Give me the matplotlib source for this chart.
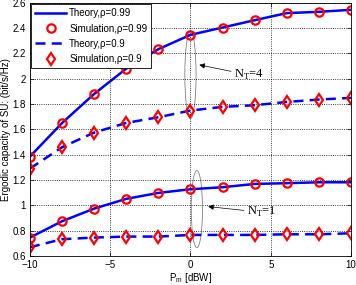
import matplotlib.pyplot as plt
from matplotlib.patches import Ellipse

plt.rcParams.update({
    "font.family": ["Liberation Sans", "DejaVu Sans"],
    "font.size": 7,
    "xtick.direction": "in", "ytick.direction": "in",
    "mathtext.fontset": "custom", "mathtext.rm": "Liberation Sans",
})

pm = [-10, -8, -6, -4, -2, 0, 2, 4, 6, 8, 10]

# N_T = 4
cap4_rho99 = [1.385, 1.65, 1.88, 2.08, 2.234, 2.347, 2.405, 2.463, 2.519, 2.529, 2.545]
cap4_rho90 = [1.29, 1.459, 1.575, 1.651, 1.696, 1.749, 1.778, 1.791, 1.817, 1.836, 1.849]
# N_T = 1
cap1_rho99 = [0.745, 0.874, 0.974, 1.051, 1.098, 1.127, 1.143, 1.169, 1.175, 1.182, 1.182]
cap1_rho90 = [0.669, 0.732, 0.745, 0.753, 0.753, 0.766, 0.766, 0.766, 0.771, 0.771, 0.779]

yticks = [0.6, 0.8, 1.0, 1.2, 1.4, 1.6, 1.8, 2.0, 2.2, 2.4, 2.6]
ytick_labels = ["0.6", "0.8", "1", "1.2", "1.4", "1.6", "1.8", "2", "2.2", "2.4", "2.6"]

fig = plt.figure(figsize=(3.56, 2.85), dpi=100)
ax = fig.add_axes([0.084, 0.102, 0.902, 0.888])

blue = "#0000ff"
red = "#ff0000"
mk = dict(ls="none", mfc="none", mec=red, mew=1.6)

for cap99, cap90, first in [(cap4_rho99, cap4_rho90, True), (cap1_rho99, cap1_rho90, False)]:
    ax.plot(pm, cap99, color=blue, lw=1.8, label="Theory,ρ=0.99" if first else None)
    ax.plot(pm, cap99, marker="o", ms=6, label="Simulation,ρ=0.99" if first else None, **mk)
    ax.plot(pm, cap90, color=blue, lw=1.8, ls=(0, (4, 2.5)), label="Theory,ρ=0.9" if first else None)
    ax.plot(pm, cap90, marker="d", ms=6, label="Simulation,ρ=0.9" if first else None, **mk)

# annotations
ax.add_patch(Ellipse((0.0, 2.03), 0.7, 0.69, fill=False, ec="gray", lw=0.6))
ax.add_patch(Ellipse((0.4, 0.97), 0.7, 0.61, fill=False, ec="gray", lw=0.6))
ax.annotate("N$_\\mathregular{T}$=4", xy=(0.55, 2.11), xytext=(2.7, 2.03),
            fontsize=9, family="Liberation Serif", va="center",
            arrowprops=dict(arrowstyle="-|>", color="black", lw=0.5,
                            mutation_scale=8, shrinkA=0, shrinkB=0))
ax.annotate("N$_\\mathregular{T}$=1", xy=(1.1, 0.99), xytext=(3.5, 0.945),
            fontsize=9, family="Liberation Serif", va="center",
            arrowprops=dict(arrowstyle="-|>", color="black", lw=0.5,
                            mutation_scale=8, shrinkA=0, shrinkB=0))

ax.set_xlim(-10, 10)
ax.set_ylim(0.6, 2.6)
ax.set_xticks([-10, -5, 0, 5, 10])
ax.set_xticklabels(["\u221210", "\u22125", "0", "5", "10"])
ax.set_yticks(yticks)
ax.set_yticklabels(ytick_labels)
ax.tick_params(labelsize=7, length=3, width=0.5, pad=3, top=True, right=True)
ax.grid(True, ls=":", color="black", lw=0.6)
for s in ax.spines.values():
    s.set_linewidth(0.6)

ax.set_xlabel("P$_\\mathregular{m}$ [dBW]", fontsize=7, labelpad=1)
ax.set_ylabel("Ergodic capacity of SU: (bit/s/Hz)", fontsize=7, labelpad=1)

leg = ax.legend(loc="upper left", fontsize=7, fancybox=False, edgecolor="black",
                framealpha=1, borderaxespad=0.15, handlelength=3.2,
                handletextpad=0.3, labelspacing=0.55, borderpad=0.4)
leg.get_frame().set_linewidth(0.6)

fig.savefig("out.png", dpi=100)
